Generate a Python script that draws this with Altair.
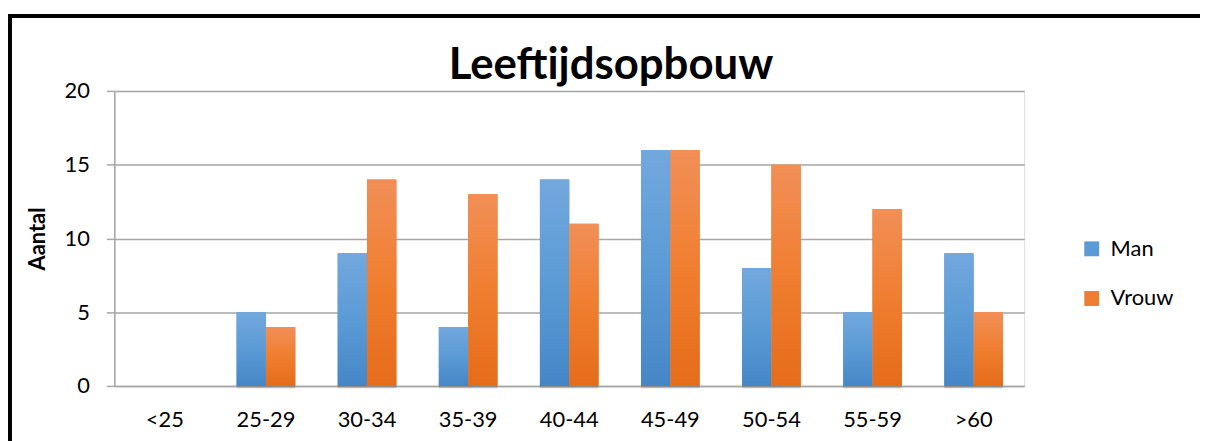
import altair as alt
import pandas as pd

categories = ["<25", "25-29", "30-34", "35-39", "40-44", "45-49", "50-54", "55-59", ">60"]
man = [0, 5, 9, 4, 14, 16, 8, 5, 9]
vrouw = [0, 4, 14, 13, 11, 16, 15, 12, 5]
series = ["Man", "Vrouw"]
title_text = ["Leeftijdsopbouw"]

rows = []
for c, m, v in zip(categories, man, vrouw):
    rows.append({"Leeftijd": c, "Geslacht": "Man", "Aantal": m})
    rows.append({"Leeftijd": c, "Geslacht": "Vrouw", "Aantal": v})
df = pd.DataFrame(rows)

FONT = "Lato"

x_enc = alt.X("Leeftijd:N", sort=categories,
              scale=alt.Scale(paddingInner=0.42, paddingOuter=0.21),
              axis=alt.Axis(title=None, labelAngle=0, labelFontSize=22, labelFont=FONT,
                            labelColor="#000000", ticks=False, domainColor="#A6A6A6",
                            domainWidth=1.5, labelPadding=24, grid=False))
y_enc = alt.Y("Aantal:Q", scale=alt.Scale(domain=[0, 20]),
              axis=alt.Axis(title="Aantal", values=[0, 5, 10, 15, 20], titleFontSize=22,
                            titleFont=FONT, titleFontWeight="bold", titleColor="#000000",
                            labelFontSize=22, labelFont=FONT, labelColor="#000000",
                            tickSize=8, tickColor="#A6A6A6", tickWidth=1.5,
                            gridColor="#A6A6A6", gridWidth=1.5, domainColor="#A6A6A6",
                            domainWidth=1.5, labelPadding=17, titlePadding=15))
xo_enc = alt.XOffset("Geslacht:N", scale=alt.Scale(domain=series))

base = alt.Chart(df)

shadow1 = base.mark_bar(color="#000000", opacity=0.10, xOffset=2, yOffset=2).encode(
    x=x_enc, y=y_enc, xOffset=xo_enc)
shadow2 = base.mark_bar(color="#000000", opacity=0.06, xOffset=4, yOffset=3).encode(
    x=x_enc, y=y_enc, xOffset=xo_enc)

legend_layer = base.mark_bar().encode(
    x=x_enc, y=y_enc, xOffset=xo_enc,
    color=alt.Color("Geslacht:N",
                    scale=alt.Scale(domain=series, range=["#5B9BD5", "#ED7D31"]),
                    legend=alt.Legend(title=None, orient="none", legendX=973, legendY=148,
                                      symbolType="square", symbolSize=225,
                                      symbolStrokeWidth=0, labelFontSize=22,
                                      labelFont=FONT, labelColor="#000000",
                                      labelOffset=8, rowPadding=28)))

blue_grad = alt.Gradient(gradient="linear", x1=0, x2=0, y1=0, y2=1,
                         stops=[alt.GradientStop(offset=0, color="#72A8DE"),
                                alt.GradientStop(offset=0.5, color="#5B9BD5"),
                                alt.GradientStop(offset=1, color="#4586C7")])
orange_grad = alt.Gradient(gradient="linear", x1=0, x2=0, y1=0, y2=1,
                           stops=[alt.GradientStop(offset=0, color="#F18F57"),
                                  alt.GradientStop(offset=0.5, color="#F07E30"),
                                  alt.GradientStop(offset=1, color="#E56C1A")])

man_bars = base.mark_bar(color=blue_grad).encode(
    x=x_enc, y=y_enc, xOffset=xo_enc).transform_filter(alt.datum.Geslacht == "Man")
vrouw_bars = base.mark_bar(color=orange_grad).encode(
    x=x_enc, y=y_enc, xOffset=xo_enc).transform_filter(alt.datum.Geslacht == "Vrouw")

frame = alt.Chart(pd.DataFrame({"a": [0]})).mark_rect(
    fill=None, stroke="#000000", strokeWidth=4).encode(
    x=alt.value(-105), y=alt.value(-75.5), x2=alt.value(1400), y2=alt.value(700))

title = alt.Chart(pd.DataFrame({"t": title_text})).mark_text(
    font=FONT, fontSize=44, fontWeight="bold", color="#000000",
    align="center", baseline="alphabetic").encode(
    text="t:N", x=alt.value(500), y=alt.value(-12))

chart = alt.layer(frame, shadow2, shadow1, legend_layer, man_bars, vrouw_bars, title).properties(
    width=916, height=297,
    autosize=alt.AutoSizeParams(type="none"),
    padding={"left": 107, "top": 82, "right": 177, "bottom": 54},
).configure_view(stroke=None).configure(background="#FFFFFF")

chart.save("out.html", embed_options={"renderer": "svg", "actions": False})
